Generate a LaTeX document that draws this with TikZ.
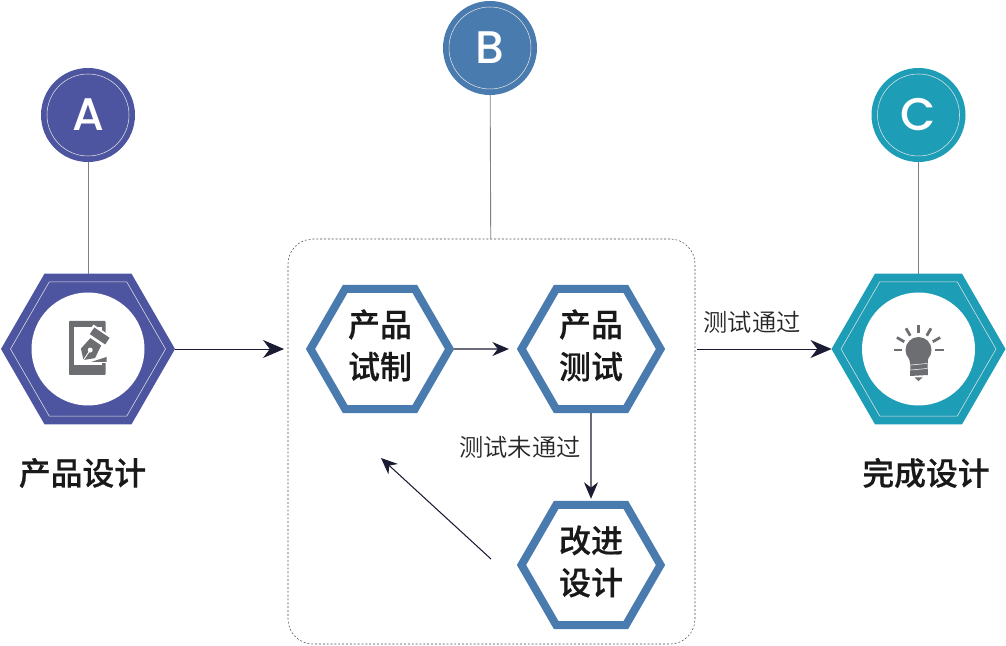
\documentclass[tikz,border=0pt]{standalone}
\usepackage{fontspec}
\usepackage{xcolor}
\usetikzlibrary{arrows.meta,shapes.geometric}
\setmainfont{Noto Sans CJK SC}
\newfontfamily\cjkmid[UprightFont=* Medium,UprightFeatures={FakeBold=0.5}]{Noto Sans CJK SC}
\newfontfamily\cjklight[UprightFont=* DemiLight]{Noto Sans CJK SC}
\newfontfamily\letterfont[UprightFont=* Medium]{Poppins}
\definecolor{hexA}{HTML}{4D55A0}
\definecolor{hexB}{HTML}{4A7BAF}
\definecolor{hexC}{HTML}{1E9DB7}
\definecolor{arrowdark}{HTML}{1B1B33}
\definecolor{icongray}{HTML}{6D6E71}
\begin{document}
\begin{tikzpicture}[
  bighex/.style={regular polygon, regular polygon sides=6, minimum size=3.48cm, inner sep=0pt, outer sep=0pt},
  smallhex/.style={regular polygon, regular polygon sides=6, draw=hexB, line width=0.16cm, fill=white, minimum size=2.78cm, inner sep=0pt, align=center, text depth=5.6pt, font=\cjkmid\fontsize{18.2}{24}\selectfont, text=black!90},
  badge/.style={circle, minimum size=1.88cm, inner sep=0pt, outer sep=0pt},
  ring/.style={circle, draw=white!80!gray, line width=0.3pt, minimum size=1.64cm, inner sep=0pt, text=white, font=\letterfont\fontsize{26}{26}\selectfont},
  stem/.style={draw=gray, line width=0.5pt},
  arr/.style={-{Stealth[length=4.2mm,width=3.6mm]}, draw=arrowdark, line width=0.55pt},
  small arr/.style={-{Stealth[length=3.3mm,width=2.8mm]}, draw=arrowdark, line width=0.6pt},
  note/.style={font=\cjklight\fontsize{13.8}{16}\selectfont, text=black!85},
  title/.style={font=\cjkmid\fontsize{18.1}{22}\selectfont, text=black!90}
]
\useasboundingbox (0,0) rectangle (20.12,12.9);
% frame
\node[draw=black!70, dash pattern=on 1.1pt off 1.1pt, line width=0.3pt, rounded corners=0.5cm, minimum width=8.14cm, minimum height=8.1cm, inner sep=0pt, outer sep=0pt] (frame) at (9.83,4.07) {};
% badges
\node[badge, fill=hexA] (circA) at (1.76,10.6) {};
\node[badge, fill=hexB] (circB) at (9.8,11.94) {};
\node[badge, fill=hexC] (circC) at (18.37,10.6) {};
\node[ring] (ringA) at (circA) {A};
\node[ring] (ringB) at (circB) {B};
\node[ring] (ringC) at (circC) {C};
% outer hexagons
\node[bighex, fill=hexA] (hexa) at (1.76,5.92) {};
\node[bighex, fill=hexC] (hexc) at (18.37,5.92) {};
\foreach \n in {hexa,hexc} {
  \node[bighex, draw=white!80!gray, line width=0.3pt, minimum size=3.1cm] (\n in) at (\n) {};
  \node[circle, fill=white, minimum size=2.26cm, inner sep=0pt] (\n disc) at (\n) {};
}
\draw[stem] (circA) -- (hexa);
\draw[stem] (circB) -- (frame);
\draw[stem] (circC) -- (hexc);
% inner hexagons
\node[smallhex] (hexone) at (7.6,5.92) {产品\\试制};
\node[smallhex] (hextwo) at (11.82,5.92) {产品\\测试};
\node[smallhex] (hexthree) at (11.82,1.6) {改进\\设计};
% connectors
\draw[arr, shorten >=0.08cm] (hexa) -- (frame.west |- hexa);
\draw[arr, shorten <=0.04cm] (frame.east |- hexc) -- (hexc);
\draw[small arr, shorten >=0.16cm] (hexone) -- (hextwo);
\draw[small arr, shorten >=0.04cm] (hextwo) -- (hexthree);
\coordinate (backstart) at (9.82,1.72);
\coordinate (backend) at (7.62,3.74);
\draw[small arr] (backstart) -- (backend);
% labels
\node[note] (lblpass) at (15.04,6.46) {测试通过};
\node[note] (lblfail) at (10.4,3.96) {测试未通过};
\node[title] (lbla) at (1.65,3.44) {产品设计};
\node[title] (lblc) at (18.52,3.44) {完成设计};
% pen icon
\fill[icongray, rounded corners=0.5pt] (1.38,5.40) rectangle (2.11,6.48);
\fill[white] (1.48,5.60) rectangle (2.04,6.366);
\fill[white] (2.0,5.64) rectangle (2.13,6.14);
\begin{scope}[shift={(1.67,5.70)}, rotate=56]
  \fill[white] (0.44,-0.23) rectangle (0.7,0.23);
  \fill[icongray] (0,0) -- (0.16,0.17) -- (0.44,0.13) -- (0.44,-0.13) -- (0.16,-0.17) -- cycle;
  \fill[white] (0.24,0) circle (0.05);
  \draw[white, line width=0.5pt] (0,0) -- (0.24,0);
  \fill[icongray] (0.5,-0.185) rectangle (0.66,0.185);
\end{scope}
\fill[icongray] (1.82,5.66) -- (2.13,5.76) -- (2.13,5.66) -- cycle;
% bulb icon
\fill[icongray] (18.37,5.9) circle (0.26);
\fill[icongray] (18.17,5.78) -- (18.57,5.78) -- (18.55,5.6) -- (18.56,5.4) -- (18.2,5.38) -- (18.21,5.6) -- cycle;
\draw[white, line width=0.3pt] (18.22,5.5) -- (18.54,5.53);
\draw[white, line width=0.3pt] (18.22,5.6) -- (18.54,5.63);
\fill[icongray] (18.29,5.35) -- (18.45,5.35) -- (18.37,5.28) -- cycle;
\foreach \a in {0,30,...,180} {
  \draw[icongray, line width=0.055cm] ([shift={(\a:0.33)}]18.37,5.9) -- ([shift={(\a:0.5)}]18.37,5.9);
}
\end{tikzpicture}
\end{document}
